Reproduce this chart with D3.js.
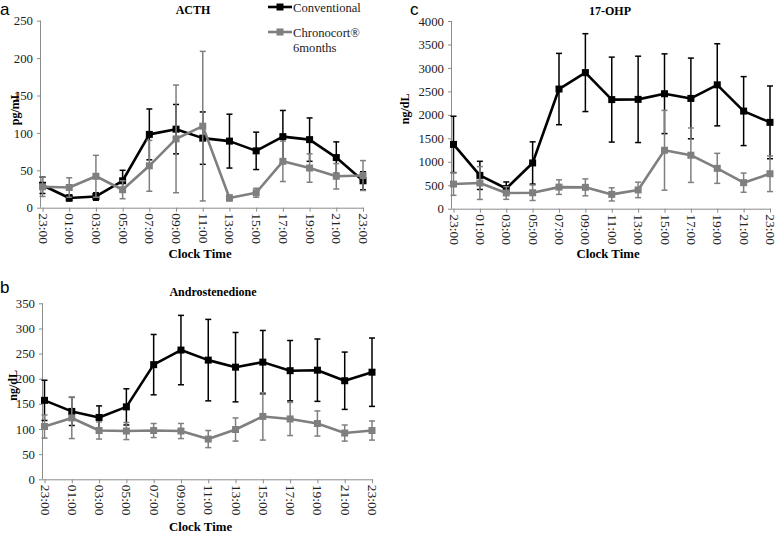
<!DOCTYPE html>
<html><head><meta charset="utf-8">
<script src="https://cdn.jsdelivr.net/npm/d3@7"></script>
<style>body{margin:0;background:#fff}svg{display:block}
.serif, .serif text{font-family:"Liberation Serif","Times New Roman",serif !important;}
</style>
</head><body>
<svg id="c" width="777" height="533"></svg>
<script>
const times = ["23:00","01:00","03:00","05:00","07:00","09:00","11:00","13:00","15:00","17:00","19:00","21:00","23:00"];
const seriesNames = ["Conventional","Chronocort\u00AE 6months"];

const acthConv    = [30,13,15,36,98,105,93,89,76,95,91,67,36];
const acthConvErr = [11,4,5,14,34,33,35,36,25,35,29,21,12];
const acthChr     = [28,27,42,24,56,92,109,13,20,62,53,42,43];
const acthChrErr  = [13,13,28,12,34,72,100,4,6,27,19,17,20];
const acthTicks   = [0,50,100,150,200,250];

const ohpConv     = [1370,710,430,975,2550,2900,2325,2330,2450,2350,2640,2080,1840];
const ohpConvErr  = [600,300,140,450,760,830,905,920,850,860,875,735,775];
const ohpChr      = [525,547,335,340,460,455,305,400,1245,1140,860,555,745];
const ohpChrErr   = [240,350,135,165,155,180,140,165,850,580,320,205,380];
const ohpTicks    = [0,500,1000,1500,2000,2500,3000,3500,4000];

const androConv    = [157,135,123,144,228,257,237,223,233,216,217,196,213];
const androConvErr = [40,28,23,36,60,69,81,69,63,60,62,57,68];
const androChr     = [105,122,97,96,97,96,80,99,125,120,111,92,97];
const androChrErr  = [23,41,17,17,14,15,17,23,47,33,25,16,19];
const androTicks   = [0,50,100,150,200,250,300,350];

const svg = d3.select("#c");
const BLACK = "#000000", GRAY = "#7f7f7f", AXIS = "#8c8c8c";
const SERIF = "'Liberation Serif','Times New Roman',serif";

function panel(o){
  const g = svg.append("g").attr("class","serif");
  const x = d3.scaleLinear().domain([0, times.length-1]).range([o.x0+1.5, o.x1]);
  const y = d3.scaleLinear().domain([0, o.ymax]).range([o.yb, o.yt]);

  const ya = g.append("g").attr("transform",`translate(${o.x0},0)`)
    .call(d3.axisLeft(y).tickValues(o.ticks).tickSize(4).tickPadding(4).tickFormat(d3.format("d")));
  ya.attr("font-family",SERIF).attr("font-size",13);
  ya.select(".domain").attr("stroke",AXIS).attr("d",`M-0.5,${o.yt}V${o.yb}`);
  ya.selectAll(".tick line").attr("stroke",AXIS);
  ya.selectAll("text").style("font-family",SERIF).attr("font-size",12.8).attr("fill","#222");

  const xa = g.append("g").attr("transform",`translate(0,${o.yb})`)
    .call(d3.axisBottom(x).tickValues(d3.range(times.length)).tickSize(4).tickFormat(i=>times[i]));
  xa.attr("font-family",SERIF).attr("font-size",13);
  xa.select(".domain").attr("stroke",AXIS).attr("d",`M${o.x0},0.5H${o.x1+1}`);
  xa.selectAll(".tick line").attr("stroke",AXIS);
  xa.selectAll("text").style("font-family",SERIF).attr("font-size",13.5).attr("fill","#222")
    .attr("transform","rotate(90)").attr("text-anchor","start")
    .attr("x",5.5).attr("y",0).attr("dy","0.33em");

  g.append("text").attr("x",o.tx).attr("y",o.ty).attr("text-anchor","middle")
    .attr("font-weight","bold").attr("font-size",12).text(o.title);
  g.append("text").attr("transform",`translate(${o.ylx},${(o.yt+o.yb)/2 - 6}) rotate(-90)`)
    .attr("text-anchor","middle").attr("font-weight","bold").attr("font-size",12).text(o.ylab);
  g.append("text").attr("x",(o.x0+o.x1)/2+ (o.clx||0)).attr("y",o.cly).attr("text-anchor","middle")
    .attr("font-weight","bold").attr("font-size",12.8).text("Clock Time");
  svg.append("text").attr("x",o.lx).attr("y",o.ly).attr("font-family","'Liberation Sans',Arial,sans-serif")
    .attr("font-size",17).text(o.letter);

  const series = [
    {v:o.conv, e:o.convErr, c:BLACK},
    {v:o.chr,  e:o.chrErr,  c:GRAY}
  ];
  series.forEach(s=>{
    const sg = g.append("g");
    s.v.forEach((v,i)=>{
      const cx = x(i), lo = y(v - s.e[i]), hi = y(v + s.e[i]);
      sg.append("line").attr("x1",cx).attr("x2",cx).attr("y1",lo).attr("y2",hi).attr("stroke",s.c).attr("stroke-width",1.5);
      [lo,hi].forEach(yy=> sg.append("line").attr("x1",cx-3).attr("x2",cx+3).attr("y1",yy).attr("y2",yy).attr("stroke",s.c).attr("stroke-width",1.5));
    });
    sg.append("path").datum(s.v)
      .attr("d", d3.line().x((d,i)=>x(i)).y(d=>y(d)))
      .attr("fill","none").attr("stroke",s.c).attr("stroke-width",2.6).attr("stroke-linejoin","round");
    sg.selectAll("rect").data(s.v).join("rect")
      .attr("x",(d,i)=>x(i)-3.5).attr("y",d=>y(d)-3.5).attr("width",7).attr("height",7).attr("fill",s.c);
  });
}

panel({x0:41, x1:363, yt:20.7, yb:207.7, ymax:250, ticks:acthTicks, title:"ACTH", tx:193, ty:14,
  ylab:"pg/mL", ylx:19, cly:258, clx:-2, letter:"a", lx:0, ly:15,
  conv:acthConv, convErr:acthConvErr, chr:acthChr, chrErr:acthChrErr});
panel({x0:452, x1:770, yt:21, yb:208.7, ymax:4000, ticks:ohpTicks, title:"17-OHP", tx:610, ty:15,
  ylab:"ng/dL", ylx:409, cly:258, clx:-3, letter:"c", lx:410, ly:15,
  conv:ohpConv, convErr:ohpConvErr, chr:ohpChr, chrErr:ohpChrErr});
panel({x0:43, x1:372, yt:303.3, yb:479.3, ymax:350, ticks:androTicks, title:"Androstenedione", tx:213, ty:296,
  ylab:"ng/dL", ylx:17, cly:531, clx:-7, letter:"b", lx:0, ly:293,
  conv:androConv, convErr:androConvErr, chr:androChr, chrErr:androChrErr});

const leg = svg.append("g").attr("class","serif");
[{c:BLACK, y:7, lines:["Conventional"]},{c:GRAY, y:32, lines:["Chronocort\u00AE","6months"]}].forEach(l=>{
  leg.append("line").attr("x1",268).attr("x2",292).attr("y1",l.y).attr("y2",l.y).attr("stroke",l.c).attr("stroke-width",2.6);
  leg.append("rect").attr("x",276.5).attr("y",l.y-3.5).attr("width",7).attr("height",7).attr("fill",l.c);
  l.lines.forEach((t,k)=> leg.append("text").attr("x",293).attr("y",l.y+4.5+k*15)
    .attr("font-size",12.6).attr("fill","#222").text(t));
});
</script>
</body></html>
